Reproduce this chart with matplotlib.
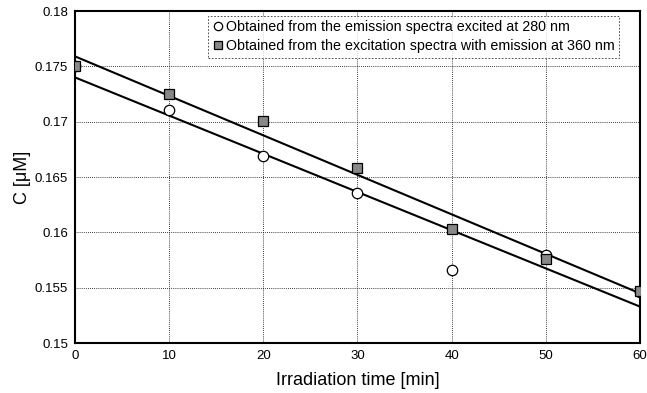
import numpy as np
import matplotlib
matplotlib.use("Agg")
from matplotlib import pyplot as plt

plt.rcParams['font.family'] = ['Liberation Sans', 'DejaVu Sans']

time_min = [0, 10, 20, 30, 40, 50, 60]
c_emission = [0.175, 0.1711, 0.1669, 0.1636, 0.1566, 0.1580, 0.1546]
c_excitation = [0.175, 0.1725, 0.1701, 0.1658, 0.1603, 0.1576, 0.1547]

# trend lines: value at t=0 and at t=60
line_t = [0, 60]
line_emission = [0.1740, 0.1533]
line_excitation = [0.1759, 0.1545]

fig = plt.figure(figsize=(6.47, 3.93), dpi=100)
ax = fig.add_axes([0.116, 0.127, 0.873, 0.845])

ax.plot(line_t, line_excitation, color="black", lw=1.5, zorder=2)
ax.plot(line_t, line_emission, color="black", lw=1.5, zorder=2)

ax.plot(time_min, c_emission, "o", ms=7.5, mfc="white", mec="black", mew=0.9,
        ls="none", zorder=3,
        label="Obtained from the emission spectra excited at 280 nm")
ax.plot(time_min, c_excitation, "s", ms=7.5, mfc="#888888", mec="black", mew=0.9,
        ls="none", zorder=4,
        label="Obtained from the excitation spectra with emission at 360 nm")

ax.set_xlim(0, 60)
ax.set_ylim(0.15, 0.18)
ax.set_xticks(np.arange(0, 61, 10))
ax.set_yticks([0.15, 0.155, 0.16, 0.165, 0.17, 0.175, 0.18])
ax.set_yticklabels(["0.15", "0.155", "0.16", "0.165", "0.17", "0.175", "0.18"])
ax.tick_params(length=0, labelsize=9.5, pad=5)
ax.grid(True, color="black", ls=(0, (1, 1.5)), lw=0.6)
for s in ax.spines.values():
    s.set_linewidth(1.5)

ax.set_xlabel("Irradiation time [min]", fontsize=13, labelpad=7)
ax.set_ylabel("C [\u03bcM]", fontsize=13, labelpad=3)

leg = ax.legend(loc="upper left", bbox_to_anchor=(0.235, 0.985), fontsize=10.3,
                frameon=True, fancybox=False, handletextpad=0.2,
                handlelength=0.8, borderpad=0.3, labelspacing=0.35,
                borderaxespad=0, markerscale=0.8)
leg.get_frame().set_edgecolor("black")
leg.get_frame().set_linestyle((0, (2, 2)))
leg.get_frame().set_linewidth(0.6)

fig.savefig("out.png", dpi=100)
